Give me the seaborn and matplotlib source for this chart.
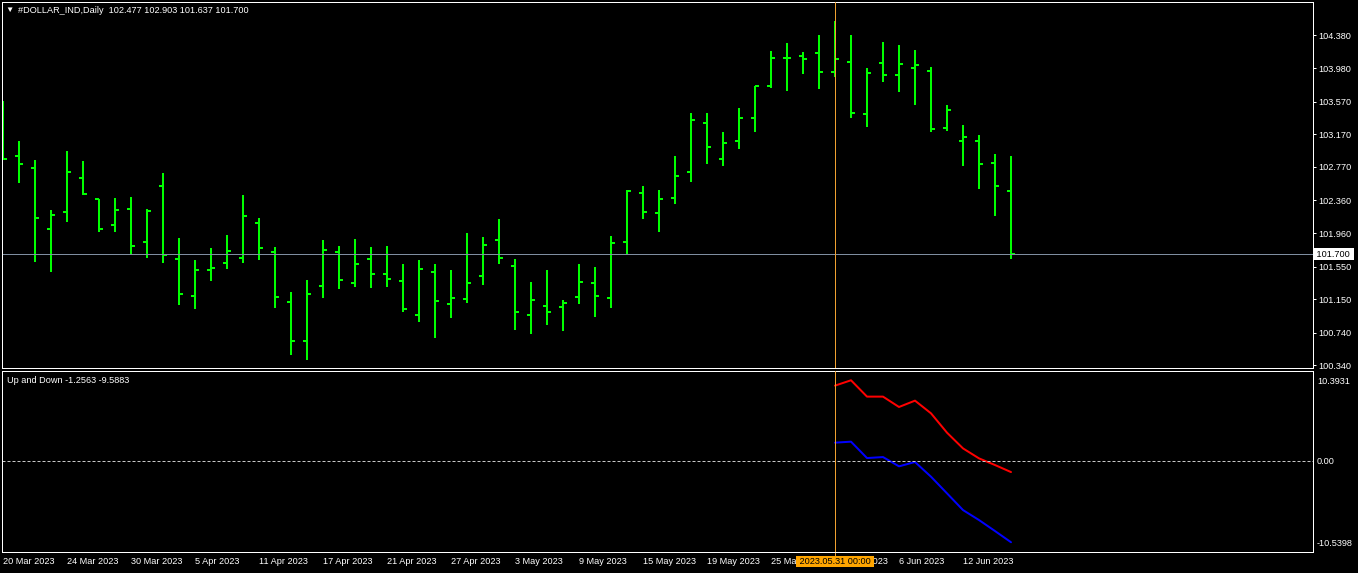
import numpy as np
import pandas as pd
import seaborn as sns
import matplotlib.pyplot as plt
import matplotlib.transforms as mtransforms

# ===================================================================================================================
# daily bars of #DOLLAR_IND, 20 Mar 2023 .. 15 Jun 2023
opens = [103.300, 102.900, 102.761, 102.014, 102.222, 102.638, 102.373, 102.063, 102.259, 101.855,
         102.540, 101.647, 101.186, 101.512, 101.598, 101.651, 102.088, 101.733, 101.121, 100.643,
         101.316, 101.733, 101.353, 101.647, 101.463, 101.378, 100.953, 101.488, 101.096, 101.157,
         101.439, 101.871, 101.561, 100.953, 101.072, 101.059, 101.182, 101.353, 101.170, 101.855,
         102.455, 102.210, 102.390, 102.712, 103.312, 102.871, 103.091, 103.373, 103.764, 104.107,
         104.132, 104.168, 103.928, 104.058, 103.422, 104.046, 103.899, 103.985, 103.948, 103.250,
         103.091, 103.091, 102.822, 102.477]
highs = [103.577, 103.087, 102.855, 102.243, 102.965, 102.842, 102.373, 102.390, 102.402, 102.251,
         102.696, 101.900, 101.631, 101.778, 101.937, 102.426, 102.145, 101.790, 101.239, 101.386,
         101.880, 101.802, 101.888, 101.790, 101.802, 101.582, 101.631, 101.582, 101.508, 101.961,
         101.912, 102.132, 101.643, 101.361, 101.508, 101.145, 101.582, 101.545, 101.924, 102.483,
         102.536, 102.487, 102.904, 103.430, 103.430, 103.197, 103.491, 103.764, 104.189, 104.287,
         104.177, 104.385, 104.556, 104.385, 103.981, 104.299, 104.262, 104.201, 103.993, 103.528,
         103.283, 103.161, 102.928, 102.903]
lows = [102.863, 102.577, 101.610, 101.488, 102.100, 102.426, 101.977, 101.977, 101.700, 101.659,
        101.598, 101.084, 101.035, 101.378, 101.516, 101.598, 101.635, 101.047, 100.472, 100.411,
        101.170, 101.280, 101.304, 101.292, 101.304, 100.998, 100.876, 100.680, 100.925, 101.108,
        101.329, 101.586, 100.778, 100.729, 100.839, 100.766, 101.096, 100.937, 101.047, 101.696,
        102.137, 101.977, 102.320, 102.589, 102.810, 102.785, 102.993, 103.201, 103.740, 103.703,
        103.911, 103.728, 103.875, 103.373, 103.263, 103.813, 103.691, 103.532, 103.201, 103.214,
        102.785, 102.504, 102.173, 101.637]
closes = [102.867, 102.810, 102.149, 102.186, 102.712, 102.434, 102.014, 102.247, 101.806, 102.230,
          101.696, 101.210, 101.512, 101.537, 101.737, 102.173, 101.782, 101.174, 100.643, 101.219,
          101.749, 101.390, 101.586, 101.463, 101.402, 101.035, 101.525, 101.133, 101.170, 101.353,
          101.818, 101.659, 100.998, 101.145, 100.998, 101.108, 101.365, 101.186, 101.843, 102.479,
          102.222, 102.381, 102.663, 103.348, 103.018, 103.067, 103.373, 103.764, 104.107, 104.107,
          104.095, 103.928, 104.095, 103.434, 103.924, 103.899, 104.034, 104.021, 103.238, 103.471,
          103.140, 102.810, 102.540, 101.700]

# "Up and Down" indicator, only drawn on the last 12 bars
up_values = [9.70, 10.3931, 8.28, 8.28, 6.94, 7.76, 6.12, 3.62, 1.59, 0.30, -0.56, -1.47]
down_values = [2.33, 2.46, 0.34, 0.47, -0.73, -0.17, -2.07, -4.22, -6.38, -7.67, -9.09, -10.5398]

# labels
date_labels = ["20 Mar 2023", "24 Mar 2023", "30 Mar 2023", "5 Apr 2023", "11 Apr 2023", "17 Apr 2023",
               "21 Apr 2023", "27 Apr 2023", "3 May 2023", "9 May 2023", "15 May 2023", "19 May 2023",
               "25 May 2023", "31 May 2023", "6 Jun 2023", "12 Jun 2023"]
price_ticks = [104.380, 103.980, 103.570, 103.170, 102.770, 102.360, 101.960, 101.550, 101.150, 100.740, 100.340]
cursor_bar = 52
cursor_label = "2023.05.31 00:00"
symbol = "#DOLLAR_IND,Daily"
indicator_title = "Up and Down -1.2563 -9.5883"

# ===================================================================================================================
W, H = 1358, 573
PX = 72 / 100  # one pixel in points

sns.set_theme(style="dark", rc={
    "figure.facecolor": "black",
    "axes.facecolor": "black",
    "axes.edgecolor": "white",
    "text.color": "white",
    "xtick.color": "white",
    "ytick.color": "white",
})
plt.rcParams['font.family'] = ['Liberation Sans', 'DejaVu Sans']
FS = 6.6

fig = plt.figure(figsize=(W / 100, H / 100), dpi=100)
# panel rectangles in pixels (left, top, right, bottom)
main_box = (2, 2, 1312.7, 368.3)
ind_box = (2, 370.7, 1312.7, 552)


def add_panel(box):
    l, t, r, b = box
    return fig.add_axes([l / W, 1 - b / H, (r - l) / W, (b - t) / H])


ax1 = add_panel(main_box)
ax2 = add_panel(ind_box)

bar_x = np.arange(len(opens))
xlim = (-1 / 16, (1312.7 - 3) / 16)  # 16 px per bar

# -------------------------------------------------------------------------------------------------------------------
# price bars
green = "#00ff00"
ax1.vlines(bar_x, lows, highs, color=green, lw=2 * PX, capstyle="butt")
ax1.hlines(opens, bar_x - 0.28, bar_x, color=green, lw=2 * PX, capstyle="butt")
ax1.hlines(closes, bar_x, bar_x + 0.28, color=green, lw=2 * PX, capstyle="butt")

# bid line
ax1.axhline(closes[-1], color="#7f8ea0", lw=1 * PX)
ax1.set_xlim(*xlim)
ax1.set_ylim(100.305, 104.788)
ax1.set_xticks([])
ax1.yaxis.tick_right()
ax1.set_yticks(price_ticks)
ax1.set_yticklabels([f"{p:.3f}" for p in price_ticks])
ax1.tick_params(axis="y", labelsize=FS, length=3 * PX, width=PX, pad=2, colors="white")

bid_tr = mtransforms.blended_transform_factory(ax1.transAxes, ax1.transData)
ax1.text(1.0 + 1.5 / 1310.7, closes[-1], f" {closes[-1]:.3f} ", transform=bid_tr, ha="left", va="center",
         fontsize=FS, color="black", clip_on=False, zorder=10,
         bbox=dict(boxstyle="square,pad=0.15", fc="white", ec="none"))

fig.text(5.5 / W, 1 - 10.5 / H, "▼", fontsize=6, ha="left", va="center", color="white")
fig.text(18 / W, 1 - 10.5 / H,
         f"{symbol}  {opens[-1]:.3f} {highs[-1]:.3f} {lows[-1]:.3f} {closes[-1]:.3f}",
         fontsize=FS, ha="left", va="center", color="white")

# -------------------------------------------------------------------------------------------------------------------
# indicator panel
ind_x = bar_x[-len(up_values):]
sns.lineplot(x=ind_x, y=up_values, ax=ax2, color="#ff0000", linewidth=2 * PX)
sns.lineplot(x=ind_x, y=down_values, ax=ax2, color="#0000ff", linewidth=2 * PX)
ax2.axhline(0, color="#c8c8c8", lw=PX, linestyle=(0, (3, 2)))
ax2.set_xlim(*xlim)
ax2.set_ylim(-11.80, 11.63)
ax2.set_xlabel("")
ax2.set_ylabel("")

ind_max, ind_min = max(up_values), min(down_values)
ax2.yaxis.tick_right()
ax2.set_yticks([ind_max, 0, ind_min])
ax2.set_yticklabels([f"{ind_max:.4f}", "0.00", f"{ind_min:.4f}"])
ax2.tick_params(axis="y", labelsize=FS, length=0, pad=3, colors="white")

date_x = bar_x[::4][:len(date_labels)]
ax2.set_xticks(date_x)
ax2.set_xticklabels(date_labels, ha="left")
ax2.tick_params(axis="x", labelsize=FS, length=3 * PX, width=PX, pad=1.8, colors="white")

ax2.text(0.0 + 5 / 1310.7, 1 - 9.5 / 181.3, indicator_title, transform=ax2.transAxes,
         fontsize=FS, ha="left", va="center", color="white")

# cursor line + its date box (the box covers the date labels under it, as in the terminal)
for ax in (ax1, ax2):
    ax.axvline(cursor_bar, color="#f0a030", lw=PX, zorder=5)
    for s in ax.spines.values():
        s.set_color("white")
        s.set_linewidth(PX)
    ax.grid(False)

cur_tr = mtransforms.blended_transform_factory(ax2.transData, ax2.transAxes)
ax2.plot([cursor_bar, cursor_bar], [0, -4 / 181.3], transform=cur_tr, color="#f0a030", lw=PX, clip_on=False)
ax2.text(cursor_bar, -9.5 / 181.3, f" {cursor_label} ", transform=cur_tr, ha="center", va="center",
         fontsize=FS, color="black", clip_on=False, zorder=10,
         bbox=dict(boxstyle="square,pad=0.12", fc="#ffa500", ec="none"))

fig.savefig("out.png", dpi=100, facecolor="black")
